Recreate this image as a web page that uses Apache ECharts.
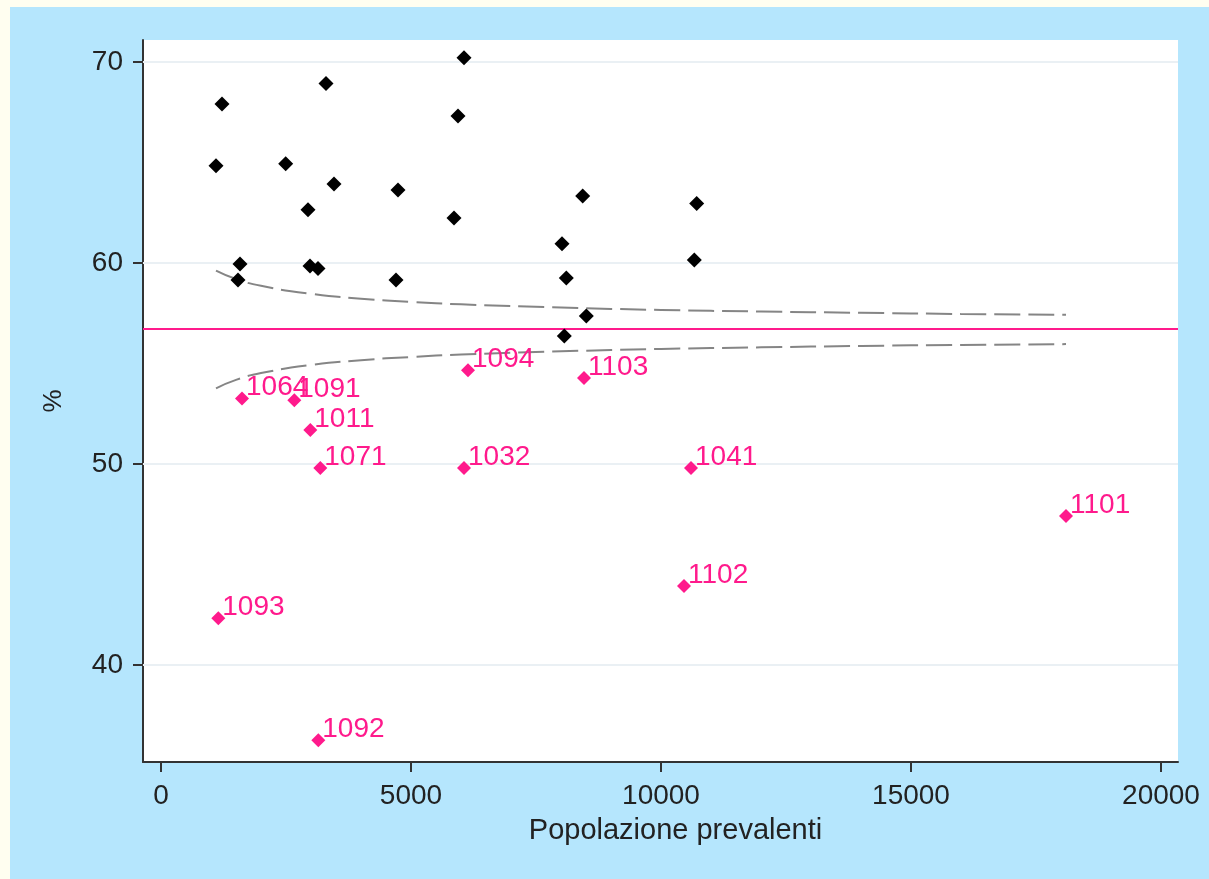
<!DOCTYPE html>
<html>
<head>
<meta charset="utf-8">
<script src="https://cdn.jsdelivr.net/npm/echarts@6/dist/echarts.min.js"></script>
<style>
  html, body { margin: 0; padding: 0; background: #fffef0; }
  #chart { width: 1209px; height: 879px; }
</style>
</head>
<body>
<div id="chart"></div>
<script>
// Black points (within limits)
const inPop = [1100, 1220, 3300, 2494, 6060, 5940, 3460, 4740, 2940, 5860, 8434, 10714, 8020, 10666, 1580, 1540, 2980, 3140, 4700, 8106, 8506, 8066];
const inPct = [64.83, 67.91, 68.92, 64.93, 70.21, 67.31, 63.93, 63.63, 62.64, 62.24, 63.33, 62.95, 60.95, 60.15, 59.95, 59.15, 59.85, 59.72, 59.15, 59.25, 57.36, 56.37];

// Pink points (below lower limit) with ids
const outIds = ['1064', '1091', '1011', '1071', '1032', '1094', '1103', '1041', '1101', '1102', '1093', '1092'];
const outPop = [1620, 2666, 2986, 3186, 6060, 6140, 8460, 10600, 18100, 10460, 1146, 3146];
const outPct = [53.25, 53.17, 51.69, 49.80, 49.80, 54.66, 54.28, 49.80, 47.41, 43.93, 42.32, 36.25];

// Mean line
const meanPct = 56.70;

// Control limits
const limitPop = [1100, 1500, 2000, 3000, 4000, 5000, 6000, 8000, 10000, 12000, 14000, 16000, 18100];
const upperLimit = [59.62, 59.20, 58.86, 58.46, 58.22, 58.06, 57.94, 57.78, 57.66, 57.58, 57.52, 57.46, 57.42];
const lowerLimit = [53.76, 54.18, 54.52, 54.92, 55.16, 55.32, 55.44, 55.60, 55.72, 55.80, 55.87, 55.92, 55.96];

// Ticks
const xTicks = [0, 5000, 10000, 15000, 20000];
const yTicks = [40, 50, 60, 70];

const FONT = 'Liberation Sans, Arial, sans-serif';
const TXT = '#222';
const PINK = '#ff1a8c';

const chart = echarts.init(document.getElementById('chart'), null, { renderer: 'canvas' });

const option = {
  animation: false,
  backgroundColor: '#b5e6fd',
  graphic: [
    { type: 'rect', left: 0, top: 0, shape: { width: 10, height: 879 }, style: { fill: '#fffef0' }, z: -10 },
    { type: 'rect', left: 0, top: 0, shape: { width: 1209, height: 7 }, style: { fill: '#fffef0' }, z: -10 }
  ],
  grid: {
    left: 143, top: 40, right: 31, bottom: 117,
    show: true, backgroundColor: '#ffffff', borderWidth: 0
  },
  xAxis: {
    type: 'value',
    min: -360, max: 20340,
    name: 'Popolazione prevalenti',
    nameLocation: 'middle',
    nameGap: 54,
    nameTextStyle: { fontFamily: FONT, fontSize: 29, color: TXT, padding: [0, 0, 0, 30] },
    axisLine: { show: true, onZero: false, lineStyle: { color: '#333', width: 2 } },
    axisTick: { show: true, length: 10, customValues: xTicks, lineStyle: { color: '#333', width: 2 } },
    axisLabel: { customValues: xTicks, formatter: v => String(v), fontFamily: FONT, fontSize: 28, color: TXT, margin: 20 },
    splitLine: { show: false }
  },
  yAxis: {
    type: 'value',
    min: 35.17, max: 71.09,
    name: '%',
    nameLocation: 'middle',
    nameGap: 76,
    nameTextStyle: { fontFamily: FONT, fontSize: 26, color: TXT },
    axisLine: { show: true, onZero: false, lineStyle: { color: '#333', width: 2 } },
    axisTick: { show: true, length: 10, customValues: yTicks, lineStyle: { color: '#333', width: 2 } },
    axisLabel: { customValues: yTicks, formatter: v => String(v), fontFamily: FONT, fontSize: 28, color: TXT, margin: 20 },
    splitLine: { show: false }
  },
  series: [
    {
      type: 'line',
      name: 'grid',
      data: [],
      silent: true,
      markLine: {
        silent: true, symbol: 'none', label: { show: false },
        lineStyle: { color: '#eaf0f4', width: 2, type: 'solid' },
        data: yTicks.map(v => ({ yAxis: v }))
      },
      z: 1
    },
    {
      type: 'line',
      name: 'mean',
      data: [],
      markLine: {
        silent: true, symbol: 'none', label: { show: false },
        lineStyle: { color: PINK, width: 2, type: 'solid' },
        data: [{ yAxis: meanPct }]
      },
      z: 2
    },
    {
      type: 'line',
      name: 'upper',
      data: limitPop.map((p, i) => [p, upperLimit[i]]),
      smooth: true,
      showSymbol: false,
      lineStyle: { color: '#858585', width: 2, type: [26, 8] },
      z: 3
    },
    {
      type: 'line',
      name: 'lower',
      data: limitPop.map((p, i) => [p, lowerLimit[i]]),
      smooth: true,
      showSymbol: false,
      lineStyle: { color: '#858585', width: 2, type: [26, 8] },
      z: 3
    },
    {
      type: 'scatter',
      name: 'in',
      symbol: 'diamond',
      symbolSize: 15,
      itemStyle: { color: '#000', opacity: 1 },
      data: inPop.map((p, i) => [p, inPct[i]]),
      z: 5
    },
    {
      type: 'scatter',
      name: 'out',
      symbol: 'diamond',
      symbolSize: 14,
      itemStyle: { color: PINK, opacity: 1 },
      data: outPop.map((p, i) => ({ value: [p, outPct[i]], name: outIds[i] })),
      label: {
        show: true,
        formatter: p => p.name,
        position: [11, 10],
        align: 'left',
        verticalAlign: 'bottom',
        fontFamily: FONT,
        fontSize: 28,
        color: PINK
      },
      z: 5
    }
  ]
};

chart.setOption(option);
</script>
</body>
</html>
